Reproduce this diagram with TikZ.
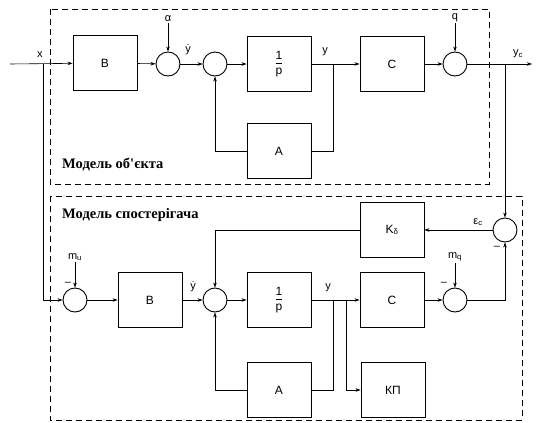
\documentclass[tikz,border=0pt]{standalone}
\usepackage{fontspec}
\setmainfont{Liberation Sans}
\newfontfamily\serifb{Liberation Serif}
\usetikzlibrary{arrows.meta}
\newcommand{\onep}{\begin{tabular}{@{}c@{}}1\\[-1pt]\hline\noalign{\vskip 1.5pt}p\end{tabular}}
\begin{document}
\begin{tikzpicture}[x=1pt,y=-1pt,
  blk/.style={draw, line width=0.9pt, minimum width=64pt, minimum height=55pt, inner sep=0pt, font=\fontsize{12}{14}\selectfont},
  sumc/.style={circle, draw, line width=0.9pt, minimum size=24pt, inner sep=0pt},
  arr/.style={-{Stealth[length=5pt,width=3.5pt]}, line width=0.6pt},
  ln/.style={line width=0.6pt},
  frame/.style={dash pattern=on 6pt off 4pt, line width=0.7pt},
  lbl/.style={font=\fontsize{11}{13}\selectfont, inner sep=1pt},
  ttl/.style={anchor=west, inner sep=0pt, font=\serifb\bfseries\fontsize{14.5}{16}\selectfont}]
\useasboundingbox (0,0) rectangle (539,423);
% frames
\draw[frame] (50,9) rectangle (489,184);
\draw[frame] (50,196) rectangle (522,420);
\node[ttl] (t1) at (62,165) {Модель об'єкта};
\node[ttl] (t2) at (62,215) {Модель спостерігача};
% top row
\node[blk] (B1) at (105,63) {B};
\node[sumc] (Sa) at (168,64) {};
\node[sumc] (S2) at (215,64) {};
\node[blk] (P1) at (279,64) {\onep};
\node[blk] (A1) at (279,151) {A};
\node[blk] (C1) at (392,64) {C};
\node[sumc] (Sq) at (455,64) {};
\coordinate (xin) at (10,64);
\coordinate (xb) at (43,64);
\coordinate (yb1) at (333,64);
\coordinate (ycb) at (505,64);
\coordinate (yout) at (532,64);
\node[lbl] (al) at (168,19) {α};
\node[lbl] (ql) at (455,18) {q};
\node[lbl] (xl) at (40,55) {x};
\node[lbl] (yd1) at (188,50) {\.{y}};
\node[lbl] (y1) at (325,52) {y};
\node[lbl] (ycl) at (518,54) {y\textsubscript{c}};
\draw[arr] (xin) -- (B1);
\draw[arr] (B1) -- (Sa);
\draw[arr] (al) -- (Sa);
\draw[arr] (Sa) -- (S2);
\draw[arr] (S2) -- (P1);
\draw[ln] (P1) -- (yb1);
\draw[arr] (yb1) -- (C1);
\draw[ln] (A1.east) -| (yb1);
\draw[arr] (A1.west) -| (S2.south);
\draw[arr] (C1) -- (Sq);
\draw[arr] (ql) -- (Sq);
\draw[arr] (Sq) -- (yout);
% bottom row
\node[sumc] (Su) at (75,300) {};
\node[blk] (B2) at (150,300) {B};
\node[sumc] (S3) at (215,300) {};
\node[blk] (P2) at (279,300) {\onep};
\node[blk] (A2) at (279,390) {A};
\node[blk] (C2) at (392,300) {C};
\node[blk] (KP) at (393,390) {КП};
\node[blk] (K) at (392,230) {K\textsubscript{δ}};
\node[sumc] (Sm) at (455,300) {};
\node[sumc] (Se) at (505,230) {};
\coordinate (yb2) at (333,300);
\coordinate (kb) at (346,300);
\node[lbl] (mu) at (75,257) {m\textsubscript{u}};
\node[lbl] (mq) at (455,257) {m\textsubscript{q}};
\node[lbl] (yd2) at (193,287) {\.{y}};
\node[lbl] (y2) at (328,288) {y};
\node[lbl] (ec) at (478,222) {ε\textsubscript{c}};
\node[lbl] (n1) at (68,284) {–};
\node[lbl] (n2) at (444,284) {–};
\node[lbl] (n3) at (497,248) {–};
\draw[arr] (xb) |- (Su.west);
\draw[arr] (mu) -- (Su);
\draw[arr] (Su) -- (B2);
\draw[arr] (B2) -- (S3);
\draw[arr] (S3) -- (P2);
\draw[ln] (P2) -- (yb2);
\draw[arr] (yb2) -- (C2);
\draw[ln] (A2.east) -| (yb2);
\draw[arr] (A2.west) -| (S3.south);
\draw[arr] (kb) |- (KP.west);
\draw[arr] (C2) -- (Sm);
\draw[arr] (mq) -- (Sm);
\draw[arr] (Sm.east) -| (Se.south);
\draw[arr] (ycb) -- (Se.north);
\draw[arr] (Se) -- (K);
\draw[arr] (K.west) -| (S3.north);
\end{tikzpicture}
\end{document}
